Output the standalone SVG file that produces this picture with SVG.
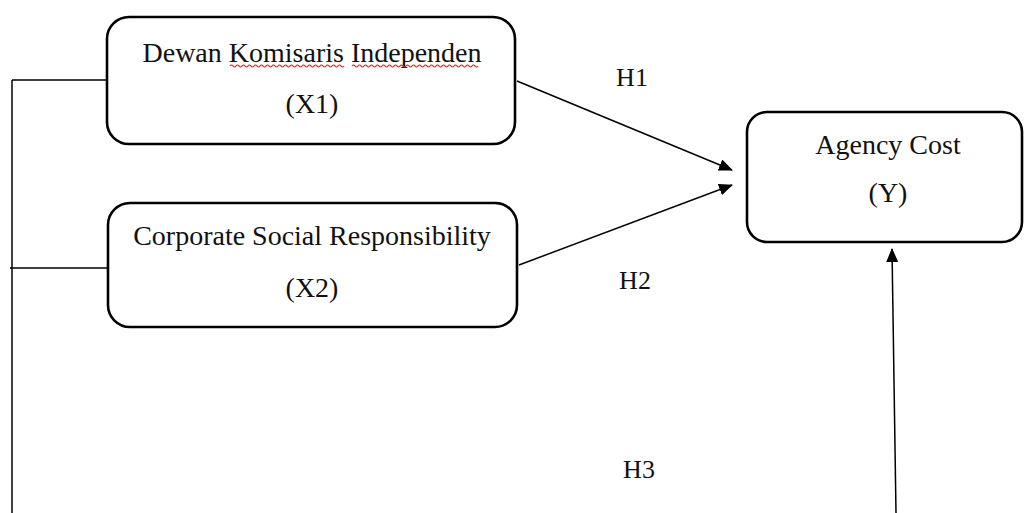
<svg xmlns="http://www.w3.org/2000/svg" width="1025" height="513" viewBox="0 0 1025 513">
<style>
.box{fill:#fff;stroke:#000;stroke-width:2.6}
.t{font-family:"Liberation Serif","Times New Roman",serif;font-size:28px;fill:#111;text-anchor:middle}
.h{font-family:"Liberation Serif","Times New Roman",serif;font-size:26px;fill:#111;text-anchor:middle}
.ln{stroke:#000;stroke-width:1.5;fill:none}
.sq{stroke:#e02020;stroke-width:1.2;fill:none}
</style>
<defs>
<marker id="ah" markerWidth="14" markerHeight="12" refX="13" refY="6" orient="auto" markerUnits="userSpaceOnUse">
<path d="M0,0 L14,6 L0,12 Z" fill="#000"/>
</marker>
</defs>
<rect width="1025" height="513" fill="#fff"/>
<g id="connectors">
<path class="ln" d="M12,80 V513"/>
<path class="ln" d="M12,80 H107"/>
<path class="ln" d="M10,268 H108"/>
<path class="ln" d="M517,81 L732,170" marker-end="url(#ah)"/>
<path class="ln" d="M519,265 L732,185" marker-end="url(#ah)"/>
<path class="ln" d="M896,513 L892,249" marker-end="url(#ah)"/>
</g>
<g id="x1">
<rect class="box" x="107" y="17" width="408" height="127" rx="22"/>
<text class="t" x="312" y="62">Dewan Komisaris Independen</text>
<path class="sq" d="M230,66 q1.5,-2 3,0 t3,0 t3,0 t3,0 t3,0 t3,0 t3,0 t3,0 t3,0 t3,0 t3,0 t3,0 t3,0 t3,0 t3,0 t3,0 t3,0 t3,0 t3,0 t3,0 t3,0 t3,0 t3,0 t3,0 t3,0 t3,0 t3,0 t3,0 t3,0 t3,0 t3,0 t3,0 t3,0 t3,0 t3,0 t3,0 t3,0 t3,0"/>
<path class="sq" d="M352,66 q1.5,-2 3,0 t3,0 t3,0 t3,0 t3,0 t3,0 t3,0 t3,0 t3,0 t3,0 t3,0 t3,0 t3,0 t3,0 t3,0 t3,0 t3,0 t3,0 t3,0 t3,0 t3,0 t3,0 t3,0 t3,0 t3,0 t3,0 t3,0 t3,0 t3,0 t3,0 t3,0 t3,0 t3,0 t3,0 t3,0 t3,0 t3,0 t3,0 t3,0 t3,0 t3,0 t3,0"/>
<text class="t" x="312" y="113">(X1)</text>
</g>
<g id="x2">
<rect class="box" x="108" y="203" width="409" height="124" rx="22"/>
<text class="t" x="312" y="245">Corporate Social Responsibility</text>
<text class="t" x="312" y="297">(X2)</text>
</g>
<g id="y">
<rect class="box" x="747" y="112" width="275" height="130" rx="20"/>
<text class="t" x="888" y="154">Agency Cost</text>
<text class="t" x="888" y="202">(Y)</text>
</g>
<g id="labels">
<text class="h" x="632" y="86">H1</text>
<text class="h" x="635" y="289">H2</text>
<text class="h" x="639" y="478">H3</text>
</g>
</svg>
